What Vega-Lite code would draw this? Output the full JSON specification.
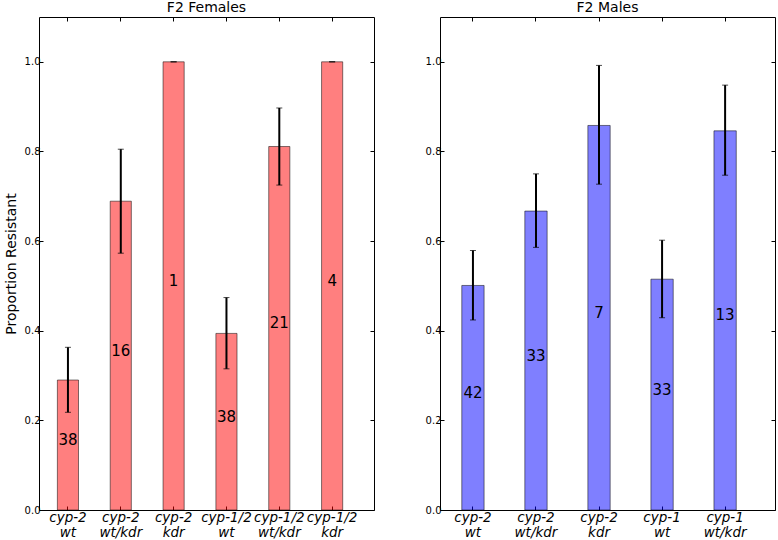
{
  "$schema": "https://vega.github.io/schema/vega-lite/v6.json",
  "background": "white",
  "padding": {"left": 3, "top": 0, "right": 0, "bottom": 0},
  "spacing": 49,
  "config": {
    "font": "DejaVu Sans",
    "view": {"stroke": "#000", "strokeWidth": 1},
    "axis": {"grid": false, "domain": false, "tickColor": "#000", "labelColor": "#000", "titleColor": "#000", "labelFont": "DejaVu Sans", "titleFont": "DejaVu Sans", "titleFontWeight": "normal"},
    "title": {"font": "DejaVu Sans", "fontSize": 14, "fontWeight": "normal", "color": "#000", "offset": 2}
  },
  "data": {"values": [
    {"sex": "F", "group": "cyp-2|wt", "value": 0.290, "lo": 0.218, "hi": 0.363, "n": 38},
    {"sex": "F", "group": "cyp-2|wt/kdr", "value": 0.689, "lo": 0.573, "hi": 0.805, "n": 16},
    {"sex": "F", "group": "cyp-2|kdr", "value": 1.0, "lo": 1.0, "hi": 1.0, "n": 1},
    {"sex": "F", "group": "cyp-1/2|wt", "value": 0.394, "lo": 0.315, "hi": 0.474, "n": 38},
    {"sex": "F", "group": "cyp-1/2|wt/kdr", "value": 0.811, "lo": 0.725, "hi": 0.897, "n": 21},
    {"sex": "F", "group": "cyp-1/2|kdr", "value": 1.0, "lo": 1.0, "hi": 1.0, "n": 4},
    {"sex": "M", "group": "cyp-2|wt", "value": 0.501, "lo": 0.424, "hi": 0.579, "n": 42},
    {"sex": "M", "group": "cyp-2|wt/kdr", "value": 0.667, "lo": 0.586, "hi": 0.750, "n": 33},
    {"sex": "M", "group": "cyp-2|kdr", "value": 0.858, "lo": 0.727, "hi": 0.992, "n": 7},
    {"sex": "M", "group": "cyp-1|wt", "value": 0.515, "lo": 0.429, "hi": 0.602, "n": 33},
    {"sex": "M", "group": "cyp-1|wt/kdr", "value": 0.846, "lo": 0.747, "hi": 0.948, "n": 13}
  ]},
  "hconcat": [
    {
      "title": "F2 Females",
      "width": 335,
      "height": 493,
      "transform": [{"filter": "datum.sex == 'F'"}],
      "layer": [
        {
          "mark": {"type": "bar", "fill": "#ff0000", "fillOpacity": 0.5, "stroke": "#000", "strokeOpacity": 0.5, "strokeWidth": 1},
          "encoding": {
            "x": {"field": "group", "type": "nominal", "sort": null, "scale": {"paddingInner": 0.6, "paddingOuter": 0.47, "align": 0.37},
                  "axis": {"orient": "bottom", "title": null, "labelAngle": 0, "labelExpr": "split(datum.label, '|')", "labelFontSize": 13.5, "labelFontStyle": "italic", "labelLineHeight": 15, "tickSize": -4, "labelPadding": 4}},
            "y": {"field": "value", "type": "quantitative", "scale": {"domain": [0, 1.1], "nice": false},
                  "axis": {"orient": "left", "title": "Proportion Resistant", "titleFontSize": 14, "titlePadding": 6, "values": [0, 0.2, 0.4, 0.6, 0.8, 1.0], "format": ".1f", "labelFontSize": 10, "tickSize": -4, "labelPadding": 3}}
          }
        },
        {
          "mark": {"type": "rule", "color": "#000", "strokeWidth": 2},
          "encoding": {
            "x": {"field": "group", "type": "nominal", "sort": null, "axis": {"orient": "top", "title": null, "labels": false, "tickSize": -4}},
            "y": {"field": "lo", "type": "quantitative", "scale": {"domain": [0, 1.1], "nice": false},
                  "axis": {"orient": "right", "title": null, "labels": false, "values": [0, 0.2, 0.4, 0.6, 0.8, 1.0], "tickSize": -4}},
            "y2": {"field": "hi"}
          }
        },
        {
          "mark": {"type": "tick", "color": "#000", "thickness": 1, "size": 6},
          "encoding": {
            "x": {"field": "group", "type": "nominal", "sort": null, "axis": null},
            "y": {"field": "lo", "type": "quantitative", "scale": {"domain": [0, 1.1], "nice": false}, "axis": null}
          }
        },
        {
          "mark": {"type": "tick", "color": "#000", "thickness": 1, "size": 6},
          "encoding": {
            "x": {"field": "group", "type": "nominal", "sort": null, "axis": null},
            "y": {"field": "hi", "type": "quantitative", "scale": {"domain": [0, 1.1], "nice": false}, "axis": null}
          }
        },
        {
          "mark": {"type": "text", "fontSize": 15, "baseline": "alphabetic", "color": "#000", "dy": 0},
          "encoding": {
            "x": {"field": "group", "type": "nominal", "sort": null, "axis": null},
            "y": {"field": "value", "type": "quantitative", "scale": {"domain": [0, 2.2], "nice": false}, "axis": null},
            "text": {"field": "n", "type": "quantitative"}
          }
        }
      ],
      "resolve": {"scale": {"y": "independent"}, "axis": {"x": "independent", "y": "independent"}}
    },
    {
      "title": "F2 Males",
      "width": 335,
      "height": 493,
      "transform": [{"filter": "datum.sex == 'M'"}],
      "layer": [
        {
          "mark": {"type": "bar", "fill": "#0000ff", "fillOpacity": 0.5, "stroke": "#000", "strokeOpacity": 0.5, "strokeWidth": 1},
          "encoding": {
            "x": {"field": "group", "type": "nominal", "sort": null, "scale": {"paddingInner": 0.646, "paddingOuter": 0.48, "align": 0.36},
                  "axis": {"orient": "bottom", "title": null, "labelAngle": 0, "labelExpr": "split(datum.label, '|')", "labelFontSize": 13.5, "labelFontStyle": "italic", "labelLineHeight": 15, "tickSize": -4, "labelPadding": 4}},
            "y": {"field": "value", "type": "quantitative", "scale": {"domain": [0, 1.1], "nice": false},
                  "axis": {"orient": "left", "title": null, "values": [0, 0.2, 0.4, 0.6, 0.8, 1.0], "format": ".1f", "labelFontSize": 10, "tickSize": -4, "labelPadding": 3}}
          }
        },
        {
          "mark": {"type": "rule", "color": "#000", "strokeWidth": 2},
          "encoding": {
            "x": {"field": "group", "type": "nominal", "sort": null, "axis": {"orient": "top", "title": null, "labels": false, "tickSize": -4}},
            "y": {"field": "lo", "type": "quantitative", "scale": {"domain": [0, 1.1], "nice": false},
                  "axis": {"orient": "right", "title": null, "labels": false, "values": [0, 0.2, 0.4, 0.6, 0.8, 1.0], "tickSize": -4}},
            "y2": {"field": "hi"}
          }
        },
        {
          "mark": {"type": "tick", "color": "#000", "thickness": 1, "size": 6},
          "encoding": {
            "x": {"field": "group", "type": "nominal", "sort": null, "axis": null},
            "y": {"field": "lo", "type": "quantitative", "scale": {"domain": [0, 1.1], "nice": false}, "axis": null}
          }
        },
        {
          "mark": {"type": "tick", "color": "#000", "thickness": 1, "size": 6},
          "encoding": {
            "x": {"field": "group", "type": "nominal", "sort": null, "axis": null},
            "y": {"field": "hi", "type": "quantitative", "scale": {"domain": [0, 1.1], "nice": false}, "axis": null}
          }
        },
        {
          "mark": {"type": "text", "fontSize": 15, "baseline": "alphabetic", "color": "#000", "dy": 0},
          "encoding": {
            "x": {"field": "group", "type": "nominal", "sort": null, "axis": null},
            "y": {"field": "value", "type": "quantitative", "scale": {"domain": [0, 2.2], "nice": false}, "axis": null},
            "text": {"field": "n", "type": "quantitative"}
          }
        }
      ],
      "resolve": {"scale": {"y": "independent"}, "axis": {"x": "independent", "y": "independent"}}
    }
  ]
}
